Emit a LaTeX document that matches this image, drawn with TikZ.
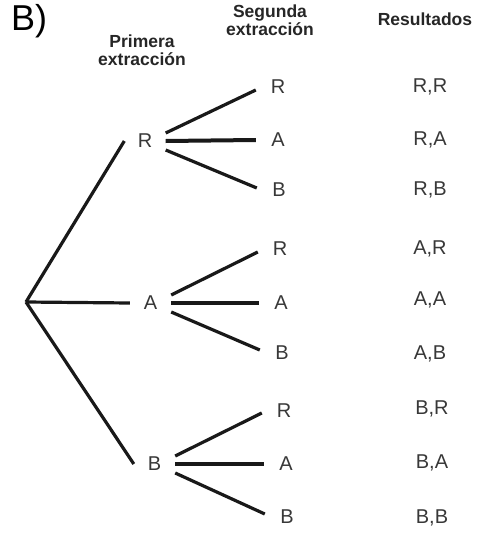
\documentclass[tikz,border=0pt]{standalone}
\usepackage{fontspec}
\setmainfont{Liberation Sans}
\begin{document}
\begin{tikzpicture}[x=1pt,y=-1pt,
  lvlone/.style={inner sep=0pt, minimum width=41pt, minimum height=16pt, text=black!78, font=\fontsize{20}{22}\selectfont},
  lvltwo/.style={inner sep=0pt, minimum width=44pt, minimum height=16pt, text=black!78, font=\fontsize{20}{22}\selectfont},
  result/.style={inner sep=0pt, text=black!78, font=\fontsize{20}{22}\selectfont},
  header/.style={align=center, inner sep=0pt, text=black!85, font=\fontsize{17.5}{18}\selectfont\bfseries},
  branch/.style={line width=3.2pt, black!90},
  hbranch/.style={line width=4pt, black!90}]
\useasboundingbox[fill=white] (0,0) rectangle (478,535);

\node[anchor=base west, inner sep=0pt, font=\fontsize{36}{38}\selectfont] (title) at (11,31) {B)};
\node[header] (h1) at (142,50) {Primera\\extracción};
\node[header] (h2) at (270,20) {Segunda\\extracción};
\node[header] (h3) at (425,19) {Resultados};

\coordinate (root) at (26,302);
\node[lvlone] (R1) at (145,141) {R};
\node[lvlone] (A1) at (150.5,303) {A};
\node[lvlone] (B1) at (154.5,464) {B};

\node[lvltwo] (RR) at (278,87) {R};
\node[lvltwo] (RA) at (278,140) {A};
\node[lvltwo] (RB) at (279,190) {B};
\node[lvltwo] (AR) at (280,249) {R};
\node[lvltwo] (AA) at (281,303) {A};
\node[lvltwo] (AB) at (282,353) {B};
\node[lvltwo] (BR) at (284,411) {R};
\node[lvltwo] (BA) at (286,464) {A};
\node[lvltwo] (BB) at (287,517) {B};

\node[result] (r1) at (430,87) {R,R};
\node[result] (r2) at (430,140) {R,A};
\node[result] (r3) at (430,190) {R,B};
\node[result] (r4) at (430,249) {A,R};
\node[result] (r5) at (430,300) {A,A};
\node[result] (r6) at (430,354) {A,B};
\node[result] (r7) at (432,409) {B,R};
\node[result] (r8) at (432,463) {B,A};
\node[result] (r9) at (432,518) {B,B};

\draw[branch] (root) -- (R1.west);
\draw[branch] (root) -- (A1.west);
\draw[branch] (root) -- (B1.west);

\draw[branch] ([yshift=8pt]R1.east) -- ([yshift=-3pt]RR.west);
\draw[hbranch] (R1.east) -- (RA.west);
\draw[branch] ([yshift=-9pt]R1.east) -- ([yshift=2pt]RB.west);

\draw[branch] ([yshift=8pt]A1.east) -- ([yshift=-3pt]AR.west);
\draw[hbranch] (A1.east) -- (AA.west);
\draw[branch] ([yshift=-9pt]A1.east) -- ([yshift=3pt]AB.west);

\draw[branch] ([yshift=8pt]B1.east) -- ([yshift=-2pt]BR.west);
\draw[hbranch] (B1.east) -- (BA.west);
\draw[branch] ([yshift=-9pt]B1.east) -- ([yshift=3pt]BB.west);
\end{tikzpicture}
\end{document}
